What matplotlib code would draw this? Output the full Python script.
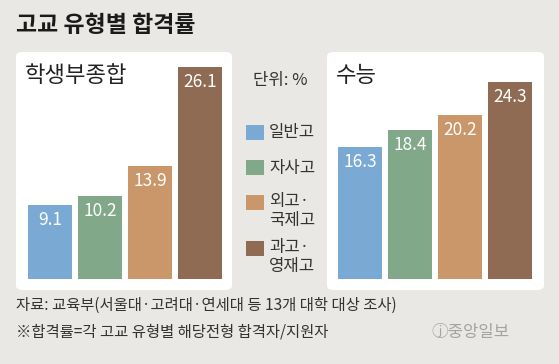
import matplotlib
matplotlib.use('Agg')
import matplotlib.pyplot as plt
from matplotlib.patches import FancyBboxPatch, Rectangle

plt.rcParams['font.family'] = ['Noto Sans CJK KR', 'DejaVu Sans']

# 데이터
school_types = ['일반고', '자사고', '외고·\n국제고', '과고·\n영재고']
hakjong = [9.1, 10.2, 13.9, 26.1]
suneung = [16.3, 18.4, 20.2, 24.3]
colors = ['#7aaad4', '#80a889', '#c9976a', '#8f6b53']

W, H = 559, 364
fig = plt.figure(figsize=(W / 100, H / 100), dpi=100)
fig.patch.set_facecolor('#e9e8e4')


def fx(px):
    return px / W


def fy(py):
    return 1 - py / H


def panel(x0, y0, x1, y1):
    box = FancyBboxPatch((fx(x0), fy(y1)), fx(x1) - fx(x0), fy(y0) - fy(y1),
                         boxstyle='round,pad=0,rounding_size=0.012',
                         transform=fig.transFigure, facecolor='white',
                         edgecolor='none', zorder=-1)
    fig.patches.append(box)


def bar_axes(x0, y0, x1, y1, values, title, first_center):
    panel(x0, y0, x1, y1)
    ax = fig.add_axes([fx(x0), fy(y1), fx(x1) - fx(x0), fy(y0) - fy(y1)])
    ax.set_zorder(1)
    ax.set_facecolor('none')
    px_per_unit = 8.12
    base = 279
    ax.set_ylim(-(y1 - base) / px_per_unit, (base - y0) / px_per_unit)
    ax.set_xlim(-first_center / 50, (x1 - x0 - first_center) / 50)
    xs = range(len(values))
    ax.bar(xs, values, width=0.88, color=colors, zorder=2)
    for x, v in zip(xs, values):
        # 막대 윗부분 안쪽에 흰 글씨
        ax.annotate(f'{v}', (x, v), xytext=(0, -11), textcoords='offset points',
                    ha='center', va='center', color='white', fontsize=12.5,
                    zorder=3)
    ax.axis('off')
    fig.text(fx(x0 + 9), fy(75), title, fontsize=16, color='#222222',
             va='center', ha='left')
    return ax


# 제목
fig.text(fx(16), fy(25), '고교 유형별 합격률', fontsize=16.5, fontweight='bold',
         color='#1a1a1a', va='center', ha='left')

bar_axes(16, 52, 232, 290, hakjong, '학생부종합', 34)
bar_axes(327, 52, 544, 290, suneung, '수능', 33)

# 범례
fig.text(fx(280), fy(80), '단위: %', fontsize=12, color='#333333',
         ha='center', va='center')
legend_rows = [133, 168, 203, 249]
for label, c, yc in zip(school_types, colors, legend_rows):
    fig.patches.append(Rectangle((fx(246), fy(yc + 7)), fx(18), 15 / H,
                                 transform=fig.transFigure, facecolor=c,
                                 edgecolor='none'))
    two_lines = '\n' in label
    fig.text(fx(269), fy(yc - 10) if two_lines else fy(yc), label,
             fontsize=12, color='#333333', ha='left',
             va='top' if two_lines else 'center', linespacing=1.15)

# 출처
fig.text(fx(16), fy(305), '자료: 교육부(서울대·고려대·연세대 등 13개 대학 대상 조사)',
         fontsize=11.1, color='#333333', va='center', ha='left')
fig.text(fx(16), fy(332), '※합격률=각 고교 유형별 해당전형 합격자/지원자',
         fontsize=11.1, color='#333333', va='center', ha='left')
fig.text(fx(510), fy(332), 'ⓙ중앙일보', fontsize=12, color='#a3a3a3',
         va='center', ha='right')

fig.savefig('out.png', dpi=100, facecolor=fig.get_facecolor())
